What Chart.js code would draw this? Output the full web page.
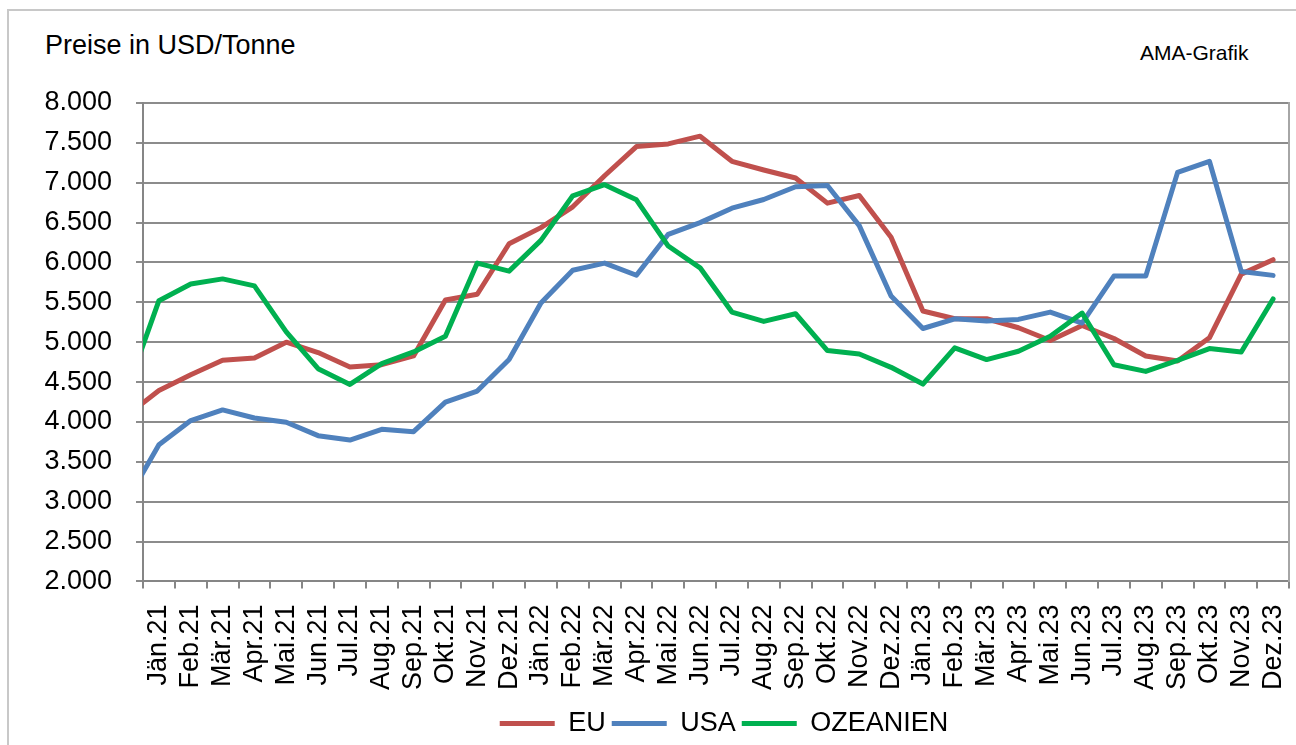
<!DOCTYPE html>
<html>
<head>
<meta charset="utf-8">
<script src="https://cdn.jsdelivr.net/npm/chart.js@4.4.1/dist/chart.umd.min.js"></script>
<style>
  html, body { margin: 0; padding: 0; background: #fff; }
  body { width: 1296px; height: 745px; overflow: hidden; position: relative; font-family: 'Liberation Sans', Arial, sans-serif; }
  #frame { position: absolute; left: 7px; top: 9px; width: 1300px; height: 760px; border: 2px solid #c8c8c8; box-sizing: border-box; }
  #ylabel { position: absolute; left: 45px; top: 32px; font-size: 27px; line-height: 27px; color: #000; white-space: nowrap; }
  #credit { position: absolute; left: 1140px; top: 42px; font-size: 21px; line-height: 21px; color: #000; white-space: nowrap; }
  #c { position: absolute; left: 0; top: 0; }
</style>
</head>
<body>
<div id="frame"></div>
<div id="ylabel">Preise in USD/Tonne</div>
<div id="credit">AMA-Grafik</div>
<canvas id="c" width="1296" height="745"></canvas>
<script>
// Categories (the first one, Dez.20, lies just outside the visible axis window)
const months = ['Dez.20',
  'Jän.21','Feb.21','Mär.21','Apr.21','Mai.21','Jun.21','Jul.21','Aug.21','Sep.21','Okt.21','Nov.21','Dez.21',
  'Jän.22','Feb.22','Mär.22','Apr.22','Mai.22','Jun.22','Jul.22','Aug.22','Sep.22','Okt.22','Nov.22','Dez.22',
  'Jän.23','Feb.23','Mär.23','Apr.23','Mai.23','Jun.23','Jul.23','Aug.23','Sep.23','Okt.23','Nov.23','Dez.23'];

const eu = [4085,
  4395, 4592, 4773, 4803, 5000, 4870, 4689, 4718, 4828, 5529, 5601, 6235,
  6437, 6698, 7088, 7454, 7487, 7584, 7269, 7160, 7059, 6744, 6840, 6315,
  5391, 5294, 5294, 5181, 5021, 5210, 5046, 4827, 4764, 5055, 5854, 6035];

const usa = [3018,
  3714, 4017, 4151, 4050, 3996, 3828, 3773, 3908, 3878, 4248, 4387, 4782,
  5492, 5903, 5992, 5840, 6353, 6500, 6681, 6790, 6950, 6966, 6462, 5580,
  5172, 5294, 5265, 5286, 5378, 5240, 5829, 5829, 7130, 7269, 5888, 5838];

const ozeanien = [4403,
  5521, 5731, 5794, 5706, 5130, 4668, 4471, 4731, 4878, 5076, 5992, 5891,
  6277, 6836, 6975, 6786, 6206, 5933, 5378, 5261, 5357, 4895, 4853, 4685,
  4475, 4929, 4782, 4887, 5076, 5366, 4718, 4634, 4773, 4920, 4878, 5543];

const seriesNames = ['EU', 'USA', 'OZEANIEN'];
const yMin = 2000, yMax = 8000, yStep = 500;

const FONT = "'Liberation Sans', Arial, sans-serif";
const FS = 27;
const toPoints = arr => arr.map((v, i) => ({ x: i, y: v }));
const fmt = v => (v / 1000).toFixed(3);

const mk = (label, data, color, order) => ({
  label, data: toPoints(data), borderColor: color, backgroundColor: color,
  borderWidth: 5, pointRadius: 0, pointHoverRadius: 0, tension: 0,
  borderJoinStyle: 'round', borderCapStyle: 'round', order, xAxisID: 'x', yAxisID: 'y'
});

// nudge the legend a little, like the original layout
const legendShift = {
  id: 'legendShift',
  afterLayout(chart) {
    const lg = chart.legend;
    if (lg) { lg.left += 8; lg.right += 8; lg.top += 2; lg.bottom += 2; }
  }
};

new Chart(document.getElementById('c'), {
  type: 'line',
  data: {
    datasets: [
      mk(seriesNames[0], eu, '#C0504D', 3),
      mk(seriesNames[1], usa, '#4F81BD', 2),
      mk(seriesNames[2], ozeanien, '#00B050', 1)
    ]
  },
  plugins: [legendShift],
  options: {
    responsive: false,
    animation: false,
    devicePixelRatio: 1,
    layout: { padding: { left: 45, right: 7, top: 103, bottom: 0 } },
    plugins: {
      tooltip: { enabled: false },
      legend: {
        position: 'bottom',
        reverse: true,
        fullSize: false,
        labels: {
          usePointStyle: true, pointStyle: 'line', pointStyleWidth: 55,
          color: '#000', font: { size: FS, family: FONT }, padding: 6
        }
      }
    },
    scales: {
      xt: {
        type: 'linear', position: 'bottom', min: 0.5, max: months.length - 0.5, weight: 0,
        afterBuildTicks: s => { s.ticks = months.map((m, i) => ({ value: i + 0.5 })); },
        afterFit: s => { s.paddingLeft = 0; s.paddingRight = 0; },
        grid: { drawOnChartArea: false, drawTicks: true, tickLength: 7, color: '#868686', lineWidth: 2 },
        border: { display: true, color: '#868686', width: 2 },
        ticks: { display: false }
      },
      x: {
        type: 'linear', position: 'bottom', min: 0.5, max: months.length - 0.5, weight: 1,
        afterBuildTicks: s => { s.ticks = months.map((m, i) => ({ value: i })).filter(t => t.value >= 1); },
        afterFit: s => { s.paddingLeft = 0; s.paddingRight = 0; s.height = s.height + 4; },
        grid: { display: false },
        border: { display: false },
        ticks: {
          autoSkip: false, minRotation: 90, maxRotation: 90, padding: 8,
          color: '#000', font: { size: FS, family: FONT },
          callback: v => months[v]
        }
      },
      y: {
        type: 'linear', position: 'left', min: yMin, max: yMax,
        afterFit: s => { s.width = 98; },
        ticks: { stepSize: yStep, padding: 24, color: '#000', font: { size: FS, family: FONT }, callback: v => fmt(v) },
        grid: { color: '#8c8c8c', lineWidth: 2, tickLength: 7, drawTicks: true },
        border: { color: '#868686', width: 2 }
      },
      y2: {
        type: 'linear', position: 'right', min: yMin, max: yMax,
        grid: { display: false, drawTicks: false },
        ticks: { display: false },
        border: { display: true, color: '#a6a6a6', width: 2 }
      }
    }
  }
});
</script>
</body>
</html>
